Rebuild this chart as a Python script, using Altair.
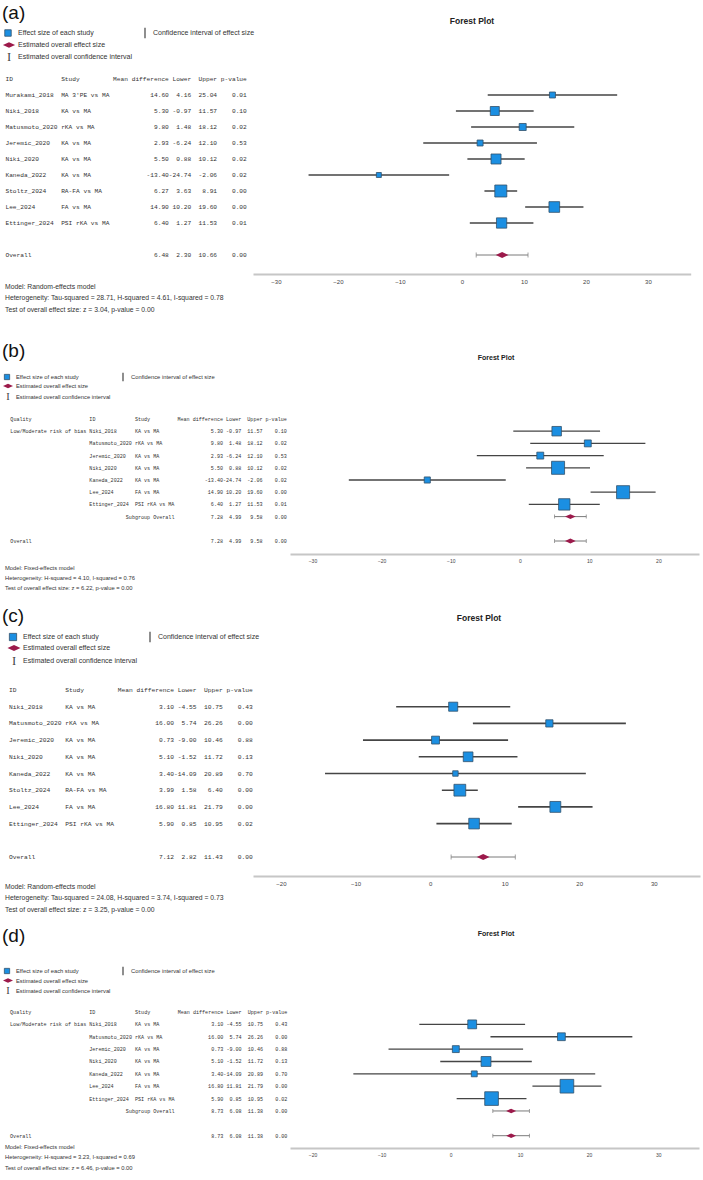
import altair as alt
import pandas as pd

# ---------------- data ----------------
# (a) all studies, random effects
a_ids = ["Murakami_2018", "Niki_2018", "Matusmoto_2020", "Jeremic_2020", "Niki_2020",
         "Kaneda_2022", "Stoltz_2024", "Lee_2024", "Ettinger_2024"]
a_study = ["MA 3'PE vs MA", "KA vs MA", "rKA vs MA", "KA vs MA", "KA vs MA",
           "KA vs MA", "RA-FA vs MA", "FA vs MA", "PSI rKA vs MA"]
a_md = [14.60, 5.30, 9.80, 2.93, 5.50, -13.40, 6.27, 14.90, 6.40]
a_lo = [4.16, -0.97, 1.48, -6.24, 0.88, -24.74, 3.63, 10.20, 1.27]
a_up = [25.04, 11.57, 18.12, 12.10, 10.12, -2.06, 8.91, 19.60, 11.53]
a_p = [0.01, 0.10, 0.02, 0.53, 0.02, 0.02, 0.00, 0.00, 0.01]
a_w = [5.2, 11.7, 7.1, 5.2, 14.5, 3.6, 20.8, 16.5, 15.3]
a_overall = [6.48, 2.30, 10.66, 0.00]
a_footer = ["Model: Random-effects model",
            "Heterogeneity: Tau-squared = 28.71, H-squared = 4.61, I-squared = 0.78",
            "Test of overall effect size: z = 3.04, p-value = 0.00"]
a_ticks = [-30, -20, -10, 0, 10, 20, 30]

# (b) low/moderate risk of bias, fixed effects
b_ids = ["Niki_2018", "Matusmoto_2020", "Jeremic_2020", "Niki_2020", "Kaneda_2022",
         "Lee_2024", "Ettinger_2024"]
b_study = ["KA vs MA", "rKA vs MA", "KA vs MA", "KA vs MA", "KA vs MA", "FA vs MA",
           "PSI rKA vs MA"]
b_md = [5.30, 9.80, 2.93, 5.50, -13.40, 14.90, 6.40]
b_lo = [-0.97, 1.48, -6.24, 0.88, -24.74, 10.20, 1.27]
b_up = [11.57, 18.12, 12.10, 10.12, -2.06, 19.60, 11.53]
b_p = [0.10, 0.02, 0.53, 0.02, 0.02, 0.00, 0.01]
b_w = [13.0, 6.9, 6.9, 24.6, 5.4, 24.6, 18.7]
b_overall = [7.28, 4.99, 9.58, 0.00]
b_footer = ["Model: Fixed-effects model",
            "Heterogeneity: H-squared = 4.10, I-squared = 0.76",
            "Test of overall effect size: z = 6.22, p-value = 0.00"]
b_ticks = [-30, -20, -10, 0, 10, 20]

# (c) all studies, random effects
c_ids = ["Niki_2018", "Matusmoto_2020", "Jeremic_2020", "Niki_2020", "Kaneda_2022",
         "Stoltz_2024", "Lee_2024", "Ettinger_2024"]
c_study = ["KA vs MA", "rKA vs MA", "KA vs MA", "KA vs MA", "KA vs MA", "RA-FA vs MA",
           "FA vs MA", "PSI rKA vs MA"]
c_md = [3.10, 16.00, 0.73, 5.10, 3.40, 3.99, 16.80, 5.90]
c_lo = [-4.55, 5.74, -9.00, -1.52, -14.09, 1.58, 11.81, 0.85]
c_up = [10.75, 26.26, 10.46, 11.72, 20.89, 6.40, 21.79, 10.95]
c_p = [0.43, 0.00, 0.88, 0.13, 0.70, 0.00, 0.00, 0.02]
c_w = [11.9, 7.6, 9.0, 13.6, 4.3, 20.1, 17.1, 16.3]
c_overall = [7.12, 2.82, 11.43, 0.00]
c_footer = ["Model: Random-effects model",
            "Heterogeneity: Tau-squared = 24.08, H-squared = 3.74, I-squared = 0.73",
            "Test of overall effect size: z = 3.25, p-value = 0.00"]
c_ticks = [-20, -10, 0, 10, 20, 30]

# (d) low/moderate risk of bias, fixed effects
d_ids = ["Niki_2018", "Matusmoto_2020", "Jeremic_2020", "Niki_2020", "Kaneda_2022",
         "Lee_2024", "Ettinger_2024"]
d_study = ["KA vs MA", "rKA vs MA", "KA vs MA", "KA vs MA", "KA vs MA", "FA vs MA",
           "PSI rKA vs MA"]
d_md = [3.10, 16.00, 0.73, 5.10, 3.40, 16.80, 5.90]
d_lo = [-4.55, 5.74, -9.00, -1.52, -14.09, 11.81, 0.85]
d_up = [10.75, 26.26, 10.46, 11.72, 20.89, 21.79, 10.95]
d_p = [0.43, 0.00, 0.88, 0.13, 0.70, 0.00, 0.02]
d_w = [11.3, 8.8, 6.9, 14.1, 5.0, 27.0, 27.0]
d_overall = [8.73, 6.08, 11.38, 0.00]
d_footer = ["Model: Fixed-effects model",
            "Heterogeneity: H-squared = 3.23, I-squared = 0.69",
            "Test of overall effect size: z = 6.46, p-value = 0.00"]
d_ticks = [-20, -10, 0, 10, 20, 30]

quality_label = "Low/Moderate risk of bias"
legend_texts = ["Effect size of each study", "Estimated overall effect size",
                "Estimated overall confidence interval"]
legend_ci_text = "Confidence interval of effect size"
plot_title = "Forest Plot"

# ---------------- styles ----------------
BLUE = "#1b8fe2"
BLUE_EDGE = "#32506b"
RED = "#9c1a4b"
CI_COL = "#454545"
OV_COL = "#7a7a7a"
TXT = "#333333"
DIAMOND = "M -1 0 L 0 -0.46 L 1 0 L 0 0.46 Z"
NB = "\u00a0"
ONE = pd.DataFrame({"k": [0]})


def nums(md, lo, up, p):
    return f"{md:>15.2f}{lo:>6.2f}{up:>7.2f}{p:>8.2f}"


def table_df(ids, studies, md, lo, up, p, overall, quality=False):
    rows, texts = [], []
    pre_h = f"{'Quality':<26}" if quality else ""
    head = pre_h + f"{'ID':<15}{'Study':<14}{'Mean difference':>15}{'Lower':>6}{'Upper':>7}{'p-value':>8}"
    rows.append(-1); texts.append(head)
    for i in range(len(ids)):
        pre = ""
        if quality and i == 0:
            pre = f"{quality_label:<26}"
        texts.append(pre + f"{ids[i]:<15}{studies[i]:<14}" + nums(md[i], lo[i], up[i], p[i]))
        rows.append(i)
    n = len(ids)
    if quality:
        texts.append(f"{'Subgroup Overall':>28} " + nums(*overall))
        rows.append(n)
        texts.append(f"{'Overall':<55}" + nums(*overall))
        rows.append(n + 2)
    else:
        texts.append(f"{'Overall':<29}" + nums(*overall))
        rows.append(n + 1)
    texts = [t.replace(" ", NB) for t in texts]
    return pd.DataFrame({"row": rows, "text": texts})


def stext(s, x, y, fs, font="Liberation Sans", weight="normal", align="left", color=TXT):
    return alt.Chart(ONE).mark_text(
        align=align, baseline="middle", font=font, fontSize=fs, fontWeight=weight, color=color
    ).encode(x=alt.value(x), y=alt.value(y), text=alt.value(s))


def panel(cfg):
    ids, studies, md, lo, up, p, w, overall = cfg["data"]
    quality = cfg["quality"]
    H = cfg["H"]
    xs = alt.Scale(domain=cfg["xdom"], range=cfg["xrange"], nice=False, zero=False)
    ys = alt.Scale(domain=cfg["ydom"], range=cfg["yrange"], nice=False, zero=False)
    ax = alt.Axis(orient="bottom", offset=cfg["axis_y"] - H, values=cfg["ticks"], grid=False,
                  ticks=False, domainColor="#c6c6c6", domainWidth=2, labelFont="Liberation Sans",
                  labelFontSize=cfg["tick_fs"], labelColor="#444444", labelPadding=4,
                  labelFlush=False, title=None)
    Y = alt.Y("row:Q", scale=ys, axis=None)

    st = pd.DataFrame({"row": list(range(len(ids))), "md": md, "lo": lo, "up": up, "w": w})
    ov_rows = [len(ids), len(ids) + 2] if quality else [len(ids) + 1]
    ov = pd.DataFrame({"row": ov_rows, "md": [overall[0]] * len(ov_rows),
                       "lo": [overall[1]] * len(ov_rows), "up": [overall[2]] * len(ov_rows)})

    layers = []
    # study CIs
    layers.append(alt.Chart(st).mark_rule(color=CI_COL, strokeWidth=cfg["ci_w"]).encode(
        x=alt.X("lo:Q", scale=xs, axis=ax), x2="up:Q", y=Y))
    # study squares
    layers.append(alt.Chart(st).mark_square(fill=BLUE, stroke=BLUE_EDGE, strokeWidth=0.8,
                                            opacity=1).encode(
        x=alt.X("md:Q", scale=xs, axis=ax), y=Y,
        size=alt.Size("w:Q", scale=alt.Scale(domain=[0, 100], range=[0, cfg["sq_area"]]),
                      legend=None)))
    # overall CI
    layers.append(alt.Chart(ov).mark_rule(color=OV_COL, strokeWidth=1).encode(
        x=alt.X("lo:Q", scale=xs, axis=ax), x2="up:Q", y=Y))
    layers.append(alt.Chart(ov).transform_fold(["lo", "up"], as_=["end", "val"]).mark_tick(
        orient="vertical", color=OV_COL, thickness=1, size=cfg["cap"]).encode(
        x=alt.X("val:Q", scale=xs, axis=ax), y=Y))
    # diamonds
    layers.append(alt.Chart(ov).mark_point(shape=DIAMOND, filled=True, fill=RED, color=RED,
                                           opacity=1, size=cfg["dia"], strokeWidth=0).encode(
        x=alt.X("md:Q", scale=xs, axis=ax), y=Y))
    # table (monospace rows, right-aligned at the table's right edge)
    tdf = table_df(ids, studies, md, lo, up, p, overall, quality)
    nchars = 91 if quality else 65
    x_end = cfg["tx"] + nchars * 0.6 * cfg["mono_fs"]
    layers.append(alt.Chart(tdf).mark_text(align="right", baseline="middle", font="Liberation Mono",
                                           fontSize=cfg["mono_fs"], color=TXT).encode(
        x=alt.value(x_end), y=Y, text="text:N"))

    # panel label
    layers.append(stext(cfg["label"], 2, cfg["label_y"], 19, color="#111111"))
    # legend
    lx, ly, lfs, lstep = cfg["leg"]
    layers.append(alt.Chart(ONE).mark_square(size=cfg["leg_sq"], fill=BLUE, stroke=BLUE_EDGE,
                                             strokeWidth=0.8, opacity=1).encode(
        x=alt.value(lx), y=alt.value(ly)))
    layers.append(alt.Chart(ONE).mark_point(shape=DIAMOND, filled=True, fill=RED, opacity=1,
                                            size=cfg["leg_dia"], strokeWidth=0).encode(
        x=alt.value(lx + 1), y=alt.value(ly + lstep[0])))
    layers.append(stext("I", lx + 1, ly + lstep[1], lfs * 1.8, font="Liberation Serif",
                        align="center", color="#444444"))
    for t, dy in zip(legend_texts, [0] + lstep):
        layers.append(stext(t, cfg["leg_tx"], ly + dy, lfs))
    bx = cfg["bar_x"]
    layers.append(alt.Chart(ONE).mark_rule(color="#444444", strokeWidth=1.2).encode(
        x=alt.value(bx), y=alt.value(ly - lfs * 0.75), y2=alt.value(ly + lfs * 0.75)))
    layers.append(stext(legend_ci_text, bx + 8, ly, lfs))
    # title
    layers.append(stext(plot_title, cfg["title_x"], cfg["title_y"], cfg["title_fs"],
                        weight="bold", align="center", color="#222222"))
    # footer
    for t, fy in zip(cfg["footer"], cfg["footer_y"]):
        layers.append(stext(t, 5, fy, cfg["foot_fs"]))

    return alt.layer(*layers).properties(width=703, height=H)


cfg_a = dict(data=(a_ids, a_study, a_md, a_lo, a_up, a_p, a_w, a_overall), quality=False,
             H=325, xdom=[-33.7, 36.9], xrange=[253, 690.7], ydom=[-1, 10], yrange=[79, 255],
             axis_y=274, ticks=a_ticks, tick_fs=6, ci_w=1.6, sq_area=691, cap=5, dia=161,
             mono_fs=6.2, tx=5, label="(a)", label_y=13, leg=(8, 33, 7, [12, 24]), leg_sq=42,
             leg_dia=150, leg_tx=18, bar_x=145, title_x=472, title_y=21, title_fs=8.5,
             footer=a_footer, footer_y=[287, 298, 310], foot_fs=6.8)

cfg_b = dict(data=(b_ids, b_study, b_md, b_lo, b_up, b_p, b_w, b_overall), quality=True,
             H=275, xdom=[-33.24, 25.87], xrange=[290, 699], ydom=[-1, 9], yrange=[94, 216],
             axis_y=229, ticks=b_ticks, tick_fs=5, ci_w=1.3, sq_area=407, cap=4, dia=114,
             mono_fs=5.07, tx=10, label="(b)", label_y=26, leg=(7, 52, 5.8, [9, 20]), leg_sq=28,
             leg_dia=100, leg_tx=16, bar_x=123, title_x=496, title_y=33, title_fs=7,
             footer=b_footer, footer_y=[243, 253, 263], foot_fs=5.8)

cfg_c = dict(data=(c_ids, c_study, c_md, c_lo, c_up, c_p, c_w, c_overall), quality=False,
             H=320, xdom=[-23.75, 36.2], xrange=[253, 700], ydom=[-1, 9], yrange=[90, 257],
             axis_y=276, ticks=c_ticks, tick_fs=6, ci_w=1.6, sq_area=840, cap=5, dia=161,
             mono_fs=6.25, tx=9, label="(c)", label_y=16, leg=(13, 37, 7, [11, 24]), leg_sq=53,
             leg_dia=169, leg_tx=23, bar_x=150, title_x=479, title_y=18, title_fs=8.5,
             footer=c_footer, footer_y=[287, 298, 310], foot_fs=6.8)

cfg_d = dict(data=(d_ids, d_study, d_md, d_lo, d_up, d_p, d_w, d_overall), quality=True,
             H=260, xdom=[-23.25, 35.9], xrange=[290, 699], ydom=[-1, 9], yrange=[92, 215.7],
             axis_y=228, ticks=d_ticks, tick_fs=5, ci_w=1.3, sq_area=319, cap=4, dia=100,
             mono_fs=5.08, tx=10, label="(d)", label_y=16, leg=(7, 51, 5.8, [9.5, 20]), leg_sq=28,
             leg_dia=100, leg_tx=16, bar_x=123, title_x=496, title_y=14, title_fs=7,
             footer=d_footer, footer_y=[227, 237, 248], foot_fs=5.8)

chart = alt.vconcat(panel(cfg_a), panel(cfg_b), panel(cfg_c), panel(cfg_d), spacing=0).properties(
    padding=0, background="white").configure_view(stroke=None)

chart.save("out.html", embed_options={"renderer": "svg", "actions": False})
